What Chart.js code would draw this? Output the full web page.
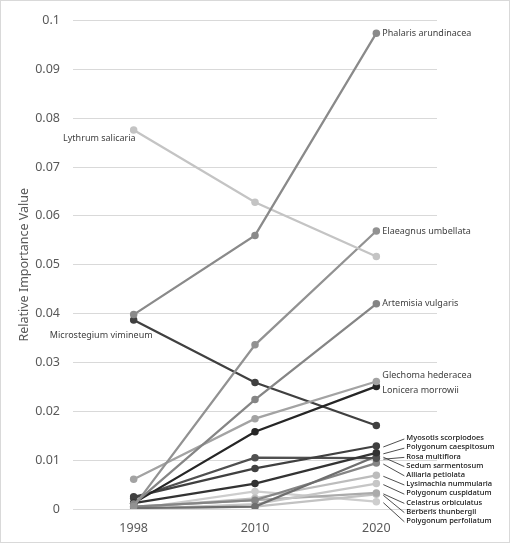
<!DOCTYPE html>
<html>
<head>
<meta charset="utf-8">
<script src="https://cdn.jsdelivr.net/npm/chart.js@4"></script>
<style>
  html, body { margin: 0; padding: 0; background: #fff; }
  #wrap { position: relative; width: 510px; height: 543px; }
  #frame { position: absolute; left: 0; top: 0; width: 508px; height: 541px; border: 1px solid #d9d9d9; pointer-events: none; }
</style>
</head>
<body>
<div id="wrap">
  <canvas id="chart" width="510" height="543"></canvas>
  <div id="frame"></div>
</div>
<script>
// Years on the x axis
const years = ["1998", "2010", "2020"]

// Species, one value per year (relative importance value)
const species = [
  "Phalaris arundinacea", "Lythrum salicaria", "Elaeagnus umbellata", "Artemisia vulgaris",
  "Glechoma hederacea", "Lonicera morrowii", "Microstegium vimineum",
  "Myosotis scorpiodoes", "Polygonum caespitosum", "Rosa multiflora", "Sedum sarmentosum",
  "Alliaria petiolata", "Lysimachia nummularia", "Polygonum cuspidatum",
  "Celastrus orbiculatus", "Berberis thunbergii", "Polygonum perfoliatum"
]
const phalaris = [0.0398, 0.056, 0.0974]
const lythrum = [0.0776, 0.0628, 0.0517]
const elaeagnus = [0.0005, 0.0336, 0.0569]
const artemisia = [0.001, 0.0224, 0.042]
const glechoma = [0.0061, 0.0185, 0.0261]
const lonicera = [0.0012, 0.0158, 0.0251]
const microstegium = [0.0387, 0.0259, 0.0171]
const myosotis = [0.0025, 0.0083, 0.0129]
const polyCaespitosum = [0.0012, 0.0052, 0.0115]
const rosa = [0.0022, 0.0105, 0.0104]
const sedum = [0.0002, 0.0005, 0.0108]
const alliaria = [0.0005, 0.0018, 0.0094]
const lysimachia = [0.0003, 0.0022, 0.0069]
const polyCuspidatum = [0.0, 0.001, 0.0052]
const celastrus = [0.0005, 0.0018, 0.0033]
const berberis = [0.0, 0.0005, 0.003]
const polyPerfoliatum = [0.0, 0.0036, 0.0015]

const seriesValues = [
  phalaris, lythrum, elaeagnus, artemisia, glechoma, lonicera, microstegium,
  myosotis, polyCaespitosum, rosa, sedum, alliaria, lysimachia, polyCuspidatum,
  celastrus, berberis, polyPerfoliatum
]

// Y tick values
const yTicks = [0, 0.01, 0.02, 0.03, 0.04, 0.05, 0.06, 0.07, 0.08, 0.09, 0.1]

// Greys for each series, in species order
const GREYS = [
  "#8a8a8a", "#c4c4c4", "#929292", "#858585", "#a3a3a3", "#262626", "#404040",
  "#404040", "#333333", "#505050", "#6e6e6e", "#858585", "#bcbcbc", "#c6c6c6",
  "#ababab", "#c2c2c2", "#cdcdcd"
]

const AXIS_COLOR = "#595959"
const GRID_COLOR = "#d9d9d9"
const FONT = "'Noto Sans', 'Open Sans', sans-serif"

// Where the big labels sit: which point, alignment, offsets
const BIG_LABELS = {
  0: { at: 2, align: "left", dx: 6, dy: 0 },
  1: { at: 0, align: "right", dx: 2, dy: 9 },
  2: { at: 2, align: "left", dx: 6, dy: 0 },
  3: { at: 2, align: "left", dx: 6, dy: 0 },
  4: { at: 2, align: "left", dx: 6, dy: -6 },
  5: { at: 2, align: "left", dx: 6, dy: 4 },
  6: { at: 0, align: "right", dx: 19, dy: 15 }
}
const SMALL_FIRST = 7
const SMALL_STEP = 9.2

const labelsPlugin = {
  id: "speciesLabels",
  afterDatasetsDraw(chart) {
    const { ctx } = chart
    ctx.save()
    ctx.textBaseline = "middle"
    // large labels
    ctx.font = "9px " + FONT
    ctx.fillStyle = "#404040"
    Object.entries(BIG_LABELS).forEach(([i, cfg]) => {
      const pt = chart.getDatasetMeta(+i).data[cfg.at]
      ctx.textAlign = cfg.align
      ctx.fillText(species[i], pt.x + cfg.dx, pt.y + cfg.dy)
    })
    // small labels with leader lines
    const first = chart.getDatasetMeta(SMALL_FIRST).data[2]
    const labelX = first.x + 30
    const startY = first.y - 8
    ctx.font = "500 7.5px " + FONT
    ctx.textAlign = "left"
    for (let i = SMALL_FIRST; i < species.length; i++) {
      const pt = chart.getDatasetMeta(i).data[2]
      const ly = startY + (i - SMALL_FIRST) * SMALL_STEP
      ctx.strokeStyle = "#222"
      ctx.lineWidth = 0.8
      ctx.beginPath()
      ctx.moveTo(pt.x + 7, pt.y + 1)
      ctx.lineTo(labelX - 2, ly + 1)
      ctx.stroke()
      ctx.fillStyle = "#111"
      ctx.fillText(species[i], labelX, ly)
    }
    ctx.restore()
  }
}

new Chart(document.getElementById("chart").getContext("2d"), {
  type: "line",
  plugins: [labelsPlugin],
  data: {
    labels: years,
    datasets: species.map((name, i) => ({
      label: name,
      data: seriesValues[i],
      borderColor: GREYS[i],
      backgroundColor: GREYS[i],
      borderWidth: 2.25,
      pointRadius: 3.75,
      pointBorderWidth: 0,
      tension: 0
    }))
  },
  options: {
    responsive: false,
    animation: false,
    layout: { padding: { top: 14, right: 73, left: 14, bottom: 0 } },
    plugins: { legend: { display: false }, tooltip: { enabled: false } },
    scales: {
      x: {
        offset: true,
        grid: { display: false },
        border: { display: false },
        ticks: { color: AXIS_COLOR, font: { family: FONT, size: 12.5 }, padding: 4 },
        afterFit: (axis) => { axis.height = 34 }
      },
      y: {
        min: 0,
        max: 0.1,
        grid: { color: GRID_COLOR, drawTicks: false },
        border: { display: false },
        afterBuildTicks: (axis) => { axis.ticks = yTicks.map((v) => ({ value: v })) },
        ticks: {
          color: AXIS_COLOR,
          font: { family: FONT, size: 12.5 },
          padding: 13,
          callback: (v) => String(+v.toFixed(2))
        },
        title: {
          display: true,
          text: "Relative Importance Value",
          color: AXIS_COLOR,
          font: { family: FONT, size: 12.5 },
          padding: { top: 3, bottom: 0 }
        },
        afterFit: (axis) => { axis.width = 59 }
      }
    }
  }
})
</script>
</body>
</html>
